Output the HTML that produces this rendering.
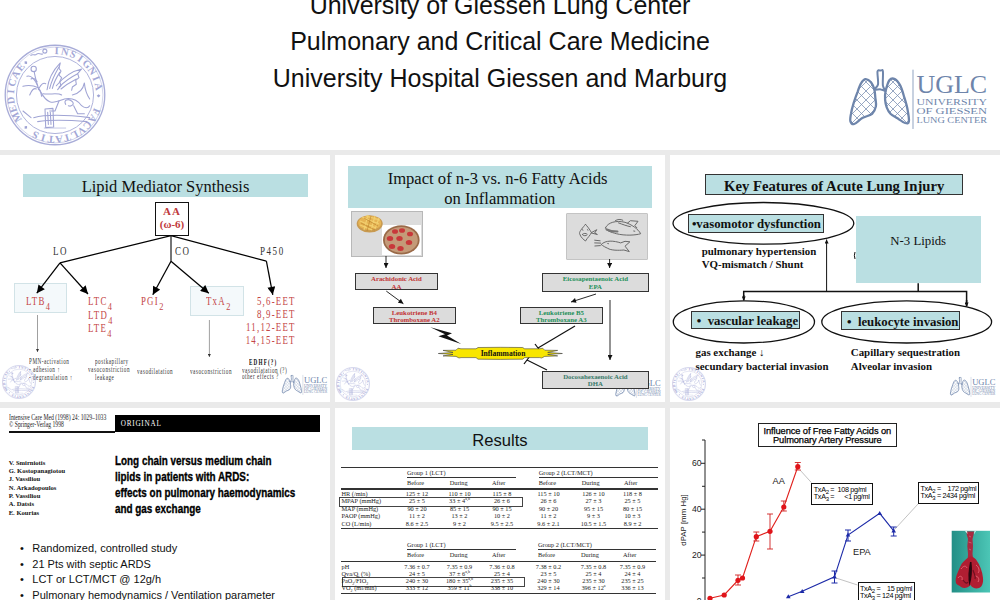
<!DOCTYPE html>
<html><head><meta charset="utf-8">
<style>
html,body{margin:0;padding:0;}
body{width:1000px;height:600px;overflow:hidden;background:#eaeaea;position:relative;font-family:"Liberation Sans",sans-serif;}
.abs{position:absolute;}
.p{position:absolute;background:#fff;overflow:hidden;}
.serif{font-family:"Liberation Serif",serif;}
.t{position:absolute;white-space:nowrap;line-height:1;}
svg{position:absolute;left:0;top:0;overflow:visible;}
.red{position:absolute;white-space:nowrap;font-family:"Liberation Serif",serif;font-size:11.6px;line-height:13px;color:#c44646;letter-spacing:1.6px;transform:scaleX(0.76);transform-origin:0 0;}
.red sub{font-size:11px;vertical-align:-5px;line-height:0;letter-spacing:0;margin-left:0.5px;}
.gbox{position:absolute;box-sizing:content-box;background:#dcdcdc;border:1.2px solid #333;font-family:"Liberation Serif",serif;font-weight:bold;font-size:6.8px;line-height:7.7px;text-align:center;white-space:nowrap;padding-top:0.5px;}
.b13{font-size:12.8px;font-weight:bold;color:#111;}
.b11{font-size:10.9px;font-weight:bold;color:#111;line-height:13.3px;}
.tb{position:absolute;white-space:nowrap;font-family:"Liberation Serif",serif;font-size:6.3px;line-height:6.3px;color:#222;}
.tb sup,.tb sub{font-size:4px;line-height:0;}
.txa{position:absolute;box-sizing:border-box;border:1px solid #111;background:#fff;font-size:7.2px;line-height:7px;padding:2.2px 0 0 1.5px;text-align:left;white-space:pre;color:#000;letter-spacing:-0.32px;overflow:hidden;}
.txa sub{font-size:6px;line-height:0;vertical-align:-2px;}
.tiny{position:absolute;white-space:nowrap;font-family:"Liberation Serif",serif;font-size:7.2px;line-height:7.7px;color:#333;letter-spacing:0.7px;transform:scaleX(0.72);transform-origin:0 0;}
</style></head><body>

<svg width="0" height="0" style="position:absolute;left:0;top:0;">
  <defs>
    <symbol id="seal" viewBox="0 0 100 100">
      <g fill="none" stroke="#a8acd8">
        <circle cx="50" cy="50" r="48.8" stroke-width="1.3"/>
        <circle cx="50" cy="50" r="47" stroke-width="0.5"/>
        <circle cx="50" cy="50" r="37.8" stroke-width="0.9"/>
      </g>
      <g font-family="Liberation Serif" font-size="10.2" font-weight="bold" fill="#a3a7d6"><text x="50" y="9.80" transform="rotate(2.0 50 50)" text-anchor="middle">I</text><text x="50" y="9.80" transform="rotate(13.0 50 50)" text-anchor="middle">N</text><text x="50" y="9.80" transform="rotate(24.0 50 50)" text-anchor="middle">S</text><text x="50" y="9.80" transform="rotate(35.0 50 50)" text-anchor="middle">I</text><text x="50" y="9.80" transform="rotate(46.0 50 50)" text-anchor="middle">G</text><text x="50" y="9.80" transform="rotate(57.0 50 50)" text-anchor="middle">N</text><text x="50" y="9.80" transform="rotate(68.0 50 50)" text-anchor="middle">I</text><text x="50" y="9.80" transform="rotate(79.0 50 50)" text-anchor="middle">A</text><text x="50" y="9.80" transform="rotate(112.0 50 50)" text-anchor="middle">F</text><text x="50" y="9.80" transform="rotate(122.4 50 50)" text-anchor="middle">A</text><text x="50" y="9.80" transform="rotate(132.9 50 50)" text-anchor="middle">C</text><text x="50" y="9.80" transform="rotate(143.3 50 50)" text-anchor="middle">V</text><text x="50" y="9.80" transform="rotate(153.8 50 50)" text-anchor="middle">L</text><text x="50" y="9.80" transform="rotate(164.2 50 50)" text-anchor="middle">T</text><text x="50" y="9.80" transform="rotate(174.7 50 50)" text-anchor="middle">A</text><text x="50" y="9.80" transform="rotate(185.1 50 50)" text-anchor="middle">T</text><text x="50" y="9.80" transform="rotate(195.6 50 50)" text-anchor="middle">I</text><text x="50" y="9.80" transform="rotate(206.0 50 50)" text-anchor="middle">S</text><text x="50" y="9.80" transform="rotate(240.0 50 50)" text-anchor="middle">M</text><text x="50" y="9.80" transform="rotate(251.5 50 50)" text-anchor="middle">E</text><text x="50" y="9.80" transform="rotate(263.0 50 50)" text-anchor="middle">D</text><text x="50" y="9.80" transform="rotate(274.5 50 50)" text-anchor="middle">I</text><text x="50" y="9.80" transform="rotate(286.0 50 50)" text-anchor="middle">C</text><text x="50" y="9.80" transform="rotate(297.5 50 50)" text-anchor="middle">A</text><text x="50" y="9.80" transform="rotate(309.0 50 50)" text-anchor="middle">E</text></g>
      <g fill="none" stroke="#a3a7d6" stroke-width="1.1"><path d="M26,11.5 C28,9 30,12 32,10 C34,8 36,11 38,9.5 M40,9 a2,2 0 1,1 0.1,0"/></g>
      <g fill="#9fa4d4"><path d="M50,5.5 l1.6,1.8 l-1.6,1.8 l-1.6,-1.8 z" transform="rotate(91 50 50)"/><path d="M50,5.5 l1.6,1.8 l-1.6,1.8 l-1.6,-1.8 z" transform="rotate(222 50 50)"/><path d="M50,5.5 l1.6,1.8 l-1.6,1.8 l-1.6,-1.8 z" transform="rotate(318 50 50)"/></g>
      <g fill="none" stroke="#a0a4d4" stroke-width="1.05" stroke-linecap="round" stroke-linejoin="round">
        <circle cx="29.1" cy="24.5" r="2.6"/>
        <path d="M29.7,27.5 C30.4,33.0 32.4,38.2 33.7,43.5"/>
        <path d="M33.7,42.8 Q26.1,39.5 18.6,41.5"/>
        <path d="M33.0,40.9 Q27.8,29.7 22.5,31.7"/>
        <path d="M31.7,44.1 Q28.4,42.2 25.2,50.0"/>
        <path d="M34.3,43.5 Q37.6,36.9 40.9,38.9"/>
        <path d="M32.4,36.9 Q29.4,32.4 26.5,34.3"/>
        <path d="M33.7,44.8 Q35.3,42.8 36.9,51.3"/>
        <path d="M33.7,43.5 C36.9,47.4 38.2,53.9 44.8,56.5 C50.0,58.5 55.2,55.2 59.2,53.9 C65.7,52.6 72.2,55.2 76.1,60.5 C78.8,63.1 82.7,63.1 84.0,60.5"/>
        <path d="M38.2,48.7 C44.8,50.0 52.6,47.4 56.5,50.0"/>
        <path d="M42.2,44.8 C43.5,34.3 48.7,25.2 55.2,18.6 L53.9,23.9 55.9,26.5 53.9,30.4 56.5,33.0 54.6,36.9 55.9,40.9 52.6,44.8"/>
        <path d="M44.8,43.5 C46.7,35.6 50.0,29.1 53.9,22.5"/>
        <path d="M47.4,43.5 C48.7,38.2 51.3,33.0 54.6,27.8"/>
        <path d="M51.3,40.9 C57.8,33.0 67.0,26.5 76.1,24.5 L72.2,29.1 73.5,33.0 70.3,35.6 70.9,39.5 67.0,42.2 66.3,45.4"/>
        <path d="M53.9,42.2 C60.5,35.6 67.0,31.7 72.2,29.1"/>
        <path d="M55.9,44.1 C61.8,38.9 67.0,36.3 70.9,34.3"/>
        <path d="M67.0,50.0 C73.5,48.7 77.5,44.8 78.8,38.2 C79.4,44.8 81.4,50.0 84.0,53.9"/>
        <path d="M60.5,59.2 C57.8,55.2 63.1,52.6 67.0,56.5 C69.6,59.2 65.7,61.8 63.1,60.5"/>
        <path d="M53.9,55.9 L50.0,65.7 44.8,65.7 M68.3,60.5 L72.2,68.3 78.8,68.3"/>
        <path d="M40.2,63.7 L48.0,63.1 48.7,81.4 40.9,82.0 z"/>
        <path d="M42.8,67.0 L43.5,78.8 M45.4,67.0 L46.1,78.8"/>
        <path d="M29.1,72.2 C43.5,68.3 63.1,69.6 84.0,72.2 M33.0,76.1 C50.0,73.5 65.7,74.8 81.4,76.1 M18.6,65.7 L26.5,72.2"/>
        <path d="M39.5,82.4 L60.5,82.4" stroke-width="0.6"/>
      </g>
    </symbol>
    <symbol id="uglc" viewBox="846 66 144 64">
      <defs><clipPath id="lungclip"><path d="M874.3,89.4 C873.5,86.8 872.4,84.1 871.0,82.3 C869.6,80.6 867.2,79.0 865.6,79.1 C864.0,79.2 862.6,80.7 861.3,82.9 C859.9,85.0 858.7,88.7 857.5,92.1 C856.2,95.4 854.8,99.3 853.7,102.9 C852.6,106.5 851.5,110.7 851.0,113.8 C850.4,116.8 849.9,119.6 850.4,121.3 C851.0,123.1 852.2,124.6 854.2,124.0 C856.2,123.5 859.4,119.8 862.3,118.1 C865.3,116.4 869.8,115.7 872.1,113.8 C874.3,111.8 875.3,108.9 875.9,106.2 C876.4,103.5 875.6,100.3 875.3,97.5 C875.1,94.7 875.0,91.9 874.3,89.4 z M885.6,91.0 C886.4,87.8 887.9,82.2 889.4,80.2 C891.0,78.2 893.0,78.2 894.8,79.1 C896.6,80.0 898.7,82.7 900.3,85.6 C901.8,88.5 902.9,92.6 904.0,96.4 C905.2,100.2 906.5,104.2 907.3,108.3 C908.1,112.5 909.3,118.9 908.9,121.3 C908.6,123.8 907.1,123.5 905.1,123.0 C903.1,122.4 899.4,119.6 897.0,118.1 C894.6,116.6 892.2,115.6 890.5,113.8 C888.8,111.9 887.6,109.6 886.7,107.3 C885.8,104.9 885.3,102.4 885.1,99.7 C884.9,97.0 884.9,94.3 885.6,91.0 z"/></clipPath></defs>
      <g fill="none" stroke="#6e85ab" stroke-linejoin="round" stroke-linecap="round">
        <path d="M791,70 L851,130 M851,70 L791,130 M800,70 L860,130 M860,70 L800,130 M809,70 L869,130 M869,70 L809,130 M818,70 L878,130 M878,70 L818,130 M827,70 L887,130 M887,70 L827,130 M836,70 L896,130 M896,70 L836,130 M845,70 L905,130 M905,70 L845,130 M854,70 L914,130 M914,70 L854,130 M863,70 L923,130 M923,70 L863,130 M872,70 L932,130 M932,70 L872,130 M881,70 L941,130 M941,70 L881,130 M890,70 L950,130 M950,70 L890,130 M899,70 L959,130 M959,70 L899,130 M908,70 L968,130 M968,70 L908,130" stroke-width="0.8" clip-path="url(#lungclip)" stroke="#7d92b4"/>
        <path d="M874.3,89.4 C873.5,86.8 872.4,84.1 871.0,82.3 C869.6,80.6 867.2,79.0 865.6,79.1 C864.0,79.2 862.6,80.7 861.3,82.9 C859.9,85.0 858.7,88.7 857.5,92.1 C856.2,95.4 854.8,99.3 853.7,102.9 C852.6,106.5 851.5,110.7 851.0,113.8 C850.4,116.8 849.9,119.6 850.4,121.3 C851.0,123.1 852.2,124.6 854.2,124.0 C856.2,123.5 859.4,119.8 862.3,118.1 C865.3,116.4 869.8,115.7 872.1,113.8 C874.3,111.8 875.3,108.9 875.9,106.2 C876.4,103.5 875.6,100.3 875.3,97.5 C875.1,94.7 875.0,91.9 874.3,89.4 z" stroke-width="2.3"/>
        <path d="M885.6,91.0 C886.4,87.8 887.9,82.2 889.4,80.2 C891.0,78.2 893.0,78.2 894.8,79.1 C896.6,80.0 898.7,82.7 900.3,85.6 C901.8,88.5 902.9,92.6 904.0,96.4 C905.2,100.2 906.5,104.2 907.3,108.3 C908.1,112.5 909.3,118.9 908.9,121.3 C908.6,123.8 907.1,123.5 905.1,123.0 C903.1,122.4 899.4,119.6 897.0,118.1 C894.6,116.6 892.2,115.6 890.5,113.8 C888.8,111.9 887.6,109.6 886.7,107.3 C885.8,104.9 885.3,102.4 885.1,99.7 C884.9,97.0 884.9,94.3 885.6,91.0 z" stroke-width="2.3"/>
        <path d="M877.5,71.5 C878.0,69.2 879.9,70.7 880.8,70.6 C881.7,70.6 882.6,68.8 882.9,71.3 C883.3,73.8 882.5,82.3 882.9,85.6 C883.4,88.9 886.0,90.4 885.6,91.0 C885.3,91.6 882.6,89.6 880.8,89.4 C878.9,89.1 874.7,90.2 874.3,89.4 C873.8,88.6 877.5,87.5 878.0,84.5 C878.6,81.5 877.1,73.8 877.5,71.5 z" stroke-width="2" fill="#fff"/>
        <line x1="913" y1="70" x2="913" y2="128.5" stroke-width="1.1" stroke="#9aabc6"/>
      </g>
      <g fill="#6e85ab" font-family="Liberation Serif">
        <text x="916.5" y="93.4" font-size="26" textLength="70.7" lengthAdjust="spacingAndGlyphs">UGLC</text>
        <text x="916.5" y="104.6" font-size="9" textLength="70.5" lengthAdjust="spacingAndGlyphs">UNIVERSITY</text>
        <text x="916.5" y="113.6" font-size="9" textLength="70.5" lengthAdjust="spacingAndGlyphs">OF GIESSEN</text>
        <text x="916.5" y="123" font-size="9" textLength="70.5" lengthAdjust="spacingAndGlyphs">LUNG CENTER</text>
      </g>
    </symbol>
  </defs>
</svg>
<!-- HEADER -->
<div class="p" id="hdr" style="left:0;top:0;width:1000px;height:150px;">
  <div class="t" style="left:0;width:1000px;text-align:center;top:-7px;font-size:25px;color:#111;">University of Giessen Lung Center</div>
  <div class="t" style="left:0;width:1000px;text-align:center;top:28.8px;font-size:25px;color:#111;">Pulmonary and Critical Care Medicine</div>
  <div class="t" style="left:0;width:1000px;text-align:center;top:65.5px;font-size:25px;color:#111;">University Hospital Giessen and Marburg</div>
  <svg class="abs" style="left:4px;top:44px;" width="102" height="102" viewBox="0 0 100 100"><use href="#seal"/></svg>
  <svg class="abs" style="left:846px;top:66px;" width="144" height="64" viewBox="0 0 144 64"><use href="#uglc" width="144" height="64"/></svg>
</div>

<!-- PANEL 1 -->
<div class="p" id="p1" style="left:0;top:155px;width:330px;height:247px;">
  <div class="abs" style="left:23px;top:19px;width:285px;height:23px;background:#badfe2;"></div>
  <div class="t serif" style="left:23px;width:285px;text-align:center;top:23.5px;font-size:16.5px;color:#111;">Lipid Mediator Synthesis</div>
  <div class="abs" style="left:14px;top:128px;width:51px;height:28px;background:#f4f9fb;border:1px solid #d2e3e7;"></div>
  <div class="abs" style="left:190px;top:131px;width:52px;height:28px;background:#f4f9fb;border:1px solid #d2e3e7;"></div>
  <div class="abs" style="left:155px;top:47px;width:32px;height:32px;border:1px solid #111;background:#fff;"></div>
  <svg width="330" height="247" viewBox="0 0 330 247">
    <defs>
      <marker id="ah1" viewBox="0 0 10 10" refX="10" refY="5" markerWidth="9" markerHeight="8" markerUnits="userSpaceOnUse" orient="auto">
        <path d="M0,0 L10,5 L0,10 z" fill="#000"/>
      </marker>
      <marker id="ah2" viewBox="0 0 10 10" refX="10" refY="5" markerWidth="3" markerHeight="3" markerUnits="userSpaceOnUse" orient="auto">
        <path d="M0,0 L10,5 L0,10 z" fill="#333"/>
      </marker>
    </defs>
    <g stroke="#000" stroke-width="1.25" fill="none">
      <polyline points="60,107.8 171,80.6 266.4,106.2"/>
      <line x1="171" y1="80.6" x2="171" y2="106.2" stroke="#222"/>
      <line x1="60" y1="107.8" x2="36.8" y2="138.2" marker-end="url(#ah1)"/>
      <line x1="60" y1="107.8" x2="88" y2="139" marker-end="url(#ah1)"/>
      <line x1="171" y1="106.2" x2="152.8" y2="139.8" marker-end="url(#ah1)"/>
      <line x1="171" y1="106.2" x2="208.8" y2="138.2" marker-end="url(#ah1)"/>
      <line x1="266.4" y1="106.2" x2="272.8" y2="139.8" marker-end="url(#ah1)"/>
    </g>
    <g stroke="#777" stroke-width="0.7">
      <line x1="37.5" y1="160" x2="37.5" y2="197" marker-end="url(#ah2)"/>
      <line x1="209.4" y1="165" x2="209.4" y2="202" marker-end="url(#ah2)"/>
    </g>
  </svg>
  <div class="t serif" style="left:155px;width:34px;text-align:center;top:51px;font-size:11px;font-weight:bold;color:#c0393b;letter-spacing:1px;">AA</div>
  <div class="t serif" style="left:155px;width:34px;text-align:center;top:64px;font-size:11px;font-weight:bold;color:#c0393b;">(ω-6)</div>
  <div class="t serif lbl" style="left:52.8px;top:90.7px;font-size:11.5px;color:#333;letter-spacing:2px;transform:scaleX(0.78);transform-origin:0 0;">LO</div>
  <div class="t serif lbl" style="left:174.7px;top:90.7px;font-size:11.5px;color:#333;letter-spacing:2px;transform:scaleX(0.78);transform-origin:0 0;">CO</div>
  <div class="t serif lbl" style="left:260px;top:90.7px;font-size:11.5px;color:#333;letter-spacing:2px;transform:scaleX(0.78);transform-origin:0 0;">P450</div>
  <div class="red" style="left:26px;top:140px;">LTB<sub>4</sub></div>
  <div class="red" style="left:88px;top:140px;line-height:13.5px;">LTC<sub>4</sub><br>LTD<sub>4</sub><br>LTE<sub>4</sub></div>
  <div class="red" style="left:141.3px;top:140px;">PGI<sub>2</sub></div>
  <div class="red" style="left:206.2px;top:140px;">TxA<sub>2</sub></div>
  <div class="red" style="right:34.2px;top:140px;line-height:13px;text-align:right;transform-origin:100% 0;">5,6-EET<br>8,9-EET<br>11,12-EET<br>14,15-EET</div>
  <div class="tiny" style="left:29px;top:204.4px;">PMN-activation<br>- adhesion ↑<br>- degranulation ↑</div>
  <div class="tiny" style="left:95px;top:204.4px;">postkapillary</div>
  <div class="tiny" style="left:88.4px;top:212.0px;">vasoconstriction</div>
  <div class="tiny" style="left:95.2px;top:219.8px;">leakage</div>
  <div class="tiny" style="left:136.8px;top:213.8px;">vasodilatation</div>
  <div class="tiny" style="left:189.9px;top:213.8px;">vasoconstriction</div>
  <div class="tiny" style="left:249px;top:205.1px;font-weight:bold;color:#111;letter-spacing:1.6px;">EDHF(?)</div>
  <div class="tiny" style="left:242px;top:212.7px;line-height:6.4px;">vasodilatation (?)<br>other effects ?</div>
  <svg class="abs" style="left:2px;top:210px;" width="34" height="34" viewBox="0 0 100 100"><use href="#seal"/></svg>
  <svg class="abs" style="left:280px;top:219px;" width="49" height="21" viewBox="0 0 144 64"><use href="#uglc" width="144" height="64"/></svg>
</div>

<!-- PANEL 2 -->
<div class="p" id="p2" style="left:335px;top:155px;width:330px;height:247px;">
  <div class="abs" style="left:12.5px;top:11px;width:304.5px;height:42px;background:#badfe2;"></div>
  <div class="t serif" style="left:10.3px;width:304.5px;text-align:center;top:13.6px;font-size:16.6px;line-height:19.6px;color:#111;">Impact of n-3 vs. n-6 Fatty Acids</div>
  <div class="t serif" style="left:12.5px;width:304.5px;text-align:center;top:34.1px;font-size:16.6px;line-height:19.6px;color:#111;">on Inflammation</div>
  <svg class="abs" style="left:279px;top:221.7px;" width="48" height="21" viewBox="0 0 144 64"><use href="#uglc" width="144" height="64"/></svg>
  <svg class="abs" style="left:1px;top:212px;" width="34" height="34" viewBox="0 0 100 100"><use href="#seal"/></svg>
  <div class="abs" style="left:16.3px;top:56.3px;width:70px;height:43.4px;background:#dcdcdc;border:1px solid #b8b8b8;"></div>
  <div class="abs" style="left:47.4px;top:70px;width:38.4px;height:30px;background:#fff;"></div>
  <div class="abs" style="left:231.3px;top:57.8px;width:80px;height:45.4px;background:#dcdcdc;border:1px solid #c4c4c4;border-radius:1px;"></div>
  <div class="gbox" style="left:20px;top:118.3px;width:80.8px;height:14.4px;color:#c23434;">Arachidonic Acid<br>AA</div>
  <div class="gbox" style="left:38px;top:152px;width:80.7px;height:14.6px;color:#c23434;">Leukotriene B4<br>Thromboxane A2</div>
  <div class="gbox" style="left:207px;top:118.3px;width:104.8px;height:16.2px;color:#24905a;">Eicosapentaenoic Acid<br>EPA</div>
  <div class="gbox" style="left:185px;top:152px;width:80.7px;height:14.6px;color:#24905a;">Leukotriene B5<br>Thromboxane A3</div>
  <div class="gbox" style="left:207px;top:216px;width:104.8px;height:15.4px;color:#3a7a6a;">Docosahexaenoic Acid<br>DHA</div>
  <svg width="330" height="247" viewBox="0 0 330 247">
    <defs>
      <marker id="ah3" viewBox="0 0 10 10" refX="10" refY="5" markerWidth="6" markerHeight="5" markerUnits="userSpaceOnUse" orient="auto">
        <path d="M0,0 L10,5 L0,10 z" fill="#111"/>
      </marker>
    </defs>
    <!-- fries -->
    <ellipse cx="34.7" cy="68.8" rx="13" ry="8.6" fill="#c89a50"/>
    <ellipse cx="34.7" cy="68" rx="11.5" ry="7.2" fill="#e6b454"/>
    <g stroke="#f2d070" stroke-width="1.1"><path d="M25,66 L41,73 M27,62 L44,69 M31,61 L45,65 M25,70 L37,75 M33,60 L29,75 M40,61 L36,75 M44,63 L40,74"/></g>
    <g stroke="#b8802a" stroke-width="0.6"><path d="M26,68 L40,75 M29,63 L43,71 M36,61 L32,76"/></g>
    <ellipse cx="66.3" cy="84.9" rx="18.3" ry="14.6" fill="#9a6a48"/>
    <ellipse cx="66.3" cy="84.9" rx="16.5" ry="12.8" fill="#c49a78"/>
    <g fill="#c8383a">
      <ellipse cx="60" cy="76.5" rx="3" ry="2.3"/><ellipse cx="67" cy="75.5" rx="3" ry="2.3"/><ellipse cx="75" cy="79" rx="3" ry="2.3"/>
      <ellipse cx="55" cy="83.5" rx="3.2" ry="2.5"/><ellipse cx="64.5" cy="83.5" rx="3.2" ry="2.5"/><ellipse cx="74" cy="87.5" rx="3.2" ry="2.5"/>
      <ellipse cx="57" cy="91.5" rx="3.2" ry="2.5"/><ellipse cx="65.5" cy="93.5" rx="3.2" ry="2.5"/>
    </g>
    <!-- fish -->
    <g fill="none" stroke="#6a6a6a" stroke-width="1" stroke-linejoin="round" stroke-linecap="round">
    <path d="M250.5,69.3 C247.8,72.8 244.5,76.0 244.5,78.4 C245.6,82.5 248.8,84.7 250.5,86.0 C252.6,82.5 255.3,80.3 256.4,77.6 C254.8,74.4 252.1,71.1 250.5,69.3"/>
    <path d="M256.4,77.6 L261.8,74.7 259.7,78.0 262.4,79.5 256.4,78.0"/>
    <path d="M247.2,79.5 C248.3,78.0 251.5,78.0 252.3,79.5 C251.5,81.2 248.3,81.2 247.2,79.5"/>
    <path d="M247.2,74.7 L248.0,75.1 M252.3,74.7 L253.0,75.1"/>
    <path d="M270.5,72.8 C272.7,67.3 281.3,65.2 290.0,67.3 C296.5,69.5 303.0,73.8 305.7,78.7 C300.8,80.3 290.0,80.9 281.3,78.7 C275.9,77.1 271.0,76.0 270.5,72.8"/>
    <path d="M280.3,65.7 C282.4,64.1 285.7,64.1 287.8,65.2"/>
    <path d="M292.2,68.4 L295.4,65.7 303.0,66.3 299.8,70.6 301.9,72.8"/>
    <path d="M283.5,67.9 C287.8,69.5 292.2,71.1 295.4,71.7"/>
    <path d="M298.7,76.0 L299.8,76.2"/>
    <path d="M266.2,89.5 C270.5,84.7 279.2,85.8 285.7,87.9 L290.0,86.3 294.9,86.8 290.0,91.2 294.3,96.6 288.9,95.0 C283.5,95.5 275.9,95.5 272.7,93.3 C270.5,92.3 268.3,91.2 266.2,89.5"/>
    <path d="M259.7,85.2 L265.1,85.8 M259.7,87.9 L265.6,88.1 M259.9,91.0 L265.3,90.6"/>
    <path d="M272.7,88.5 L273.5,88.7"/>
    <path d="M271.6,74.4 C274.8,76.0 279.2,76.5 282.4,76.5" stroke-width="2.2" stroke="#777"/>
    </g>
    <g stroke="#111" stroke-width="0.9" fill="none">
      <line x1="51" y1="101" x2="51" y2="113" marker-end="url(#ah3)"/>
      <line x1="274.6" y1="104" x2="274.6" y2="113" marker-end="url(#ah3)"/>
      <line x1="51.3" y1="136.1" x2="68.4" y2="148.7" marker-end="url(#ah3)"/>
      <line x1="261" y1="139" x2="236" y2="147" marker-end="url(#ah3)"/>
      <line x1="275" y1="145" x2="275" y2="205" marker-end="url(#ah3)"/>
      <line x1="240" y1="171" x2="203" y2="193" stroke-width="1.2"/>
      <line x1="200" y1="189" x2="206" y2="197" stroke-width="1.2"/>
      <line x1="212" y1="215" x2="192" y2="205" stroke-width="1.2"/>
      <line x1="189" y1="209" x2="195" y2="201" stroke-width="1.2"/>
    </g>
    <!-- lightning -->
    <path d="M95.4,172.2 L117,178.2 L112,180.5 L126.2,189 L103.4,181.3 L110,179.2 z" fill="#111"/>
    <!-- starburst -->
    <path d="M165.3,192.3 L143.0,192.5 L141.0,193.8 L126.0,193.8 L123.0,193.2 L121.0,195.2 L108.0,195.4 L118.0,197.4 L103.3,198.5 L118.0,199.4 L108.0,200.9 L121.0,201.4 L124.0,203.0 L126.0,202.6 L141.0,202.6 L143.0,204.2 L165.3,204.4 L187.7,204.2 L189.7,202.6 L204.7,202.6 L206.7,203.0 L209.7,201.4 L222.7,200.9 L212.7,199.4 L227.4,198.5 L212.7,197.4 L222.7,195.4 L209.7,195.2 L207.7,193.2 L204.7,193.8 L189.7,193.8 L187.7,192.5 z" fill="#f8e600" stroke="#333" stroke-width="0.55" stroke-linejoin="miter"/>
  </svg>
  <div class="t serif" style="left:168px;top:195px;transform:translateX(-50%);font-size:7.6px;font-weight:bold;color:#111;">Inflammation</div>
</div>

<!-- PANEL 3 -->
<div class="p" id="p3" style="left:670px;top:155px;width:330px;height:247px;">
  <div class="abs" style="left:35.4px;top:19.4px;width:255.6px;height:18.8px;background:#badfe2;border:1px solid #333;"></div>
  <div class="t serif" style="left:35.4px;width:257.6px;text-align:center;top:23.5px;font-size:14.7px;font-weight:bold;color:#111;">Key Features of Acute Lung Injury</div>
  <div class="abs" style="left:185.8px;top:61px;width:124.8px;height:67.2px;background:#badfe2;"></div>
  <div class="t serif" style="left:185.8px;width:124.8px;text-align:center;top:80px;font-size:12.8px;color:#111;">N-3 Lipids</div>
  <svg width="330" height="247" viewBox="0 0 330 247">
    <defs>
      <marker id="ah4" viewBox="0 0 10 10" refX="10" refY="5" markerWidth="5" markerHeight="4" markerUnits="userSpaceOnUse" orient="auto">
        <path d="M0,0 L10,5 L0,10 z" fill="#111"/>
      </marker>
    </defs>
    <g fill="none" stroke="#111" stroke-width="1.3">
      <path d="M185,97 A3,6 0 0,0 185,104" stroke-width="1"/>
      <ellipse cx="93.4" cy="68.35" rx="90.4" ry="20.85"/>
      <ellipse cx="73.9" cy="166.9" rx="70.6" ry="21.1"/>
      <ellipse cx="236.7" cy="166.9" rx="84.9" ry="21.1"/>
    </g>
    <g fill="none" stroke="#111" stroke-width="1.5">
      <polyline points="73.7,145 73.7,136.6 296.6,136.6 296.6,151"/>
      <line x1="248.2" y1="128.2" x2="248.2" y2="136.6"/>
      <line x1="156.6" y1="136.6" x2="156.6" y2="84.5" marker-end="url(#ah4)" stroke-width="1"/>
      <line x1="73.7" y1="140" x2="73.7" y2="145.5" marker-end="url(#ah4)"/>
      <line x1="296.6" y1="145" x2="296.6" y2="151.5" marker-end="url(#ah4)"/>
    </g>
  </svg>
  <div class="abs" style="left:17.7px;top:58.75px;width:134.3px;height:16.75px;background:#badfe2;border:1px solid #333;"></div>
  <div class="t serif b13" style="left:21.9px;top:62.5px;">•vasomotor dysfunction</div>
  <div class="abs" style="left:21.3px;top:155.7px;width:106.5px;height:16.7px;background:#badfe2;border:1px solid #333;"></div>
  <div class="t serif b13" style="left:26.8px;top:159.8px;">•&nbsp;&nbsp;vascular leakage</div>
  <div class="abs" style="left:171px;top:156.4px;width:116.75px;height:17.1px;background:#badfe2;border:1px solid #333;"></div>
  <div class="t serif b13" style="left:177px;top:160.5px;">•&nbsp;&nbsp;leukocyte invasion</div>
  <div class="t serif b11" style="left:31.7px;top:90px;">pulmonary hypertension<br>VQ-mismatch / Shunt</div>
  <div class="t serif b11" style="left:25.5px;top:191.4px;">gas exchange ↓<br>secundary bacterial invasion</div>
  <div class="t serif b11" style="left:180.8px;top:191.4px;">Capillary sequestration<br>Alveolar invasion</div>
  <svg class="abs" style="left:2px;top:212px;" width="34" height="34" viewBox="0 0 100 100"><use href="#seal"/></svg>
  <svg class="abs" style="left:279.4px;top:220.6px;" width="47.3" height="21" viewBox="0 0 144 64"><use href="#uglc" width="144" height="64"/></svg>
</div>

<!-- PANEL 4 -->
<div class="p" id="p4" style="left:0;top:408px;width:330px;height:192px;">
  <div class="t serif" style="left:8.7px;top:5.6px;font-size:7.6px;line-height:7.4px;color:#222;transform:scaleX(0.75);transform-origin:0 0;">Intensive Care Med (1998) 24: 1029–1033<br>© Springer-Verlag 1998</div>
  <div class="abs" style="left:9px;top:23.4px;width:106px;height:1.6px;background:#111;"></div>
  <div class="abs" style="left:114.7px;top:6.7px;width:205.3px;height:17.3px;background:#000;"></div>
  <div class="t serif" style="left:120.8px;top:12.5px;font-size:7.2px;color:#fff;letter-spacing:0.75px;">ORIGINAL</div>
  <div class="t serif" style="left:8.7px;top:50.5px;font-size:6.6px;line-height:8.38px;font-weight:bold;color:#111;">V. Smirniotis<br>G. Kostopanagiotou<br>J. Vassiliou<br>N. Arkadopoulos<br>P. Vassiliou<br>A. Datsis<br>E. Kourias</div>
  <div class="t" style="left:115px;top:44.5px;font-size:12.9px;line-height:16px;font-weight:bold;color:#000;-webkit-text-stroke:0.35px #000;transform:scaleX(0.767);transform-origin:0 0;">Long chain versus medium chain<br>lipids in patients with ARDS:<br>effects on pulmonary haemodynamics<br>and gas exchange</div>
  <div class="t" style="left:20px;top:132.7px;font-size:11px;line-height:15.85px;color:#111;">•<br>•<br>•<br>•</div>
  <div class="t" style="left:32.3px;top:132.7px;font-size:11px;line-height:15.85px;color:#111;">Randomized, controlled study<br>21 Pts with septic ARDS<br>LCT or LCT/MCT @ 12g/h<br>Pulmonary hemodynamics / Ventilation parameter</div>
</div>

<!-- PANEL 5 -->
<div class="p" id="p5" style="left:335px;top:408px;width:330px;height:192px;">
  <div class="abs" style="left:16.7px;top:18.7px;width:296.6px;height:23px;background:#badfe2;"></div>
  <div class="t" style="left:16.7px;width:296.6px;text-align:center;top:25px;font-size:16.6px;color:#111;">Results</div>
  <div class="abs" style="left:6.3px;top:59.1px;width:316.5px;height:0.8px;background:#333;"></div>
  <div class="abs" style="left:72px;top:69.2px;width:108.8px;height:1.3px;background:#333;"></div>
  <div class="abs" style="left:203.8px;top:69.2px;width:119px;height:1.3px;background:#333;"></div>
  <div class="abs" style="left:6.3px;top:80.1px;width:316.5px;height:1.5px;background:#333;"></div>
  <div class="abs" style="left:6.3px;top:119.9px;width:316.5px;height:0.8px;background:#333;"></div>
  <div class="abs" style="left:3.7px;top:89px;width:182px;height:7.6px;border:0.8px solid #444;"></div>
  <div class="tb" style="left:72px;top:61.8px;">Group 1 (LCT)</div>
  <div class="tb" style="left:203.8px;top:61.8px;">Group 2 (LCT/MCT)</div>
  <div class="tb" style="left:72px;top:72.4px;">Before</div><div class="tb" style="left:114.7px;top:72.4px;">During</div><div class="tb" style="left:157px;top:72.4px;">After</div>
  <div class="tb" style="left:203.8px;top:72.4px;">Before</div><div class="tb" style="left:246.7px;top:72.4px;">During</div><div class="tb" style="left:289px;top:72.4px;">After</div>
  <div class="tb" style="left:6.5px;top:83.1px;">HR (/min)</div>
  <div class="tb" style="left:82px;top:83.1px;transform:translateX(-50%);">125 ± 12</div>
  <div class="tb" style="left:124.5px;top:83.1px;transform:translateX(-50%);">110 ± 10</div>
  <div class="tb" style="left:167px;top:83.1px;transform:translateX(-50%);">115 ± 8</div>
  <div class="tb" style="left:213.5px;top:83.1px;transform:translateX(-50%);">115 ± 10</div>
  <div class="tb" style="left:258.5px;top:83.1px;transform:translateX(-50%);">126 ± 10</div>
  <div class="tb" style="left:297.5px;top:83.1px;transform:translateX(-50%);">118 ± 8</div>
  <div class="tb" style="left:6.5px;top:90.4px;">MPAP (mmHg)</div>
  <div class="tb" style="left:82px;top:90.4px;transform:translateX(-50%);">25 ± 5</div>
  <div class="tb" style="left:124.5px;top:90.4px;transform:translateX(-50%);">33 ± 4<sup>a,b</sup></div>
  <div class="tb" style="left:167px;top:90.4px;transform:translateX(-50%);">26 ± 6</div>
  <div class="tb" style="left:213.5px;top:90.4px;transform:translateX(-50%);">26 ± 6</div>
  <div class="tb" style="left:258.5px;top:90.4px;transform:translateX(-50%);">27 ± 3</div>
  <div class="tb" style="left:297.5px;top:90.4px;transform:translateX(-50%);">25 ± 5</div>
  <div class="tb" style="left:6.5px;top:97.8px;">MAP (mmHg)</div>
  <div class="tb" style="left:82px;top:97.8px;transform:translateX(-50%);">90 ± 20</div>
  <div class="tb" style="left:124.5px;top:97.8px;transform:translateX(-50%);">85 ± 15</div>
  <div class="tb" style="left:167px;top:97.8px;transform:translateX(-50%);">90 ± 15</div>
  <div class="tb" style="left:213.5px;top:97.8px;transform:translateX(-50%);">90 ± 20</div>
  <div class="tb" style="left:258.5px;top:97.8px;transform:translateX(-50%);">95 ± 15</div>
  <div class="tb" style="left:297.5px;top:97.8px;transform:translateX(-50%);">80 ± 15</div>
  <div class="tb" style="left:6.5px;top:105.1px;">PAOP (mmHg)</div>
  <div class="tb" style="left:82px;top:105.1px;transform:translateX(-50%);">11 ± 2</div>
  <div class="tb" style="left:124.5px;top:105.1px;transform:translateX(-50%);">13 ± 2</div>
  <div class="tb" style="left:167px;top:105.1px;transform:translateX(-50%);">10 ± 2</div>
  <div class="tb" style="left:213.5px;top:105.1px;transform:translateX(-50%);">11 ± 2</div>
  <div class="tb" style="left:258.5px;top:105.1px;transform:translateX(-50%);">9 ± 3</div>
  <div class="tb" style="left:297.5px;top:105.1px;transform:translateX(-50%);">10 ± 3</div>
  <div class="tb" style="left:6.5px;top:112.5px;">CO (L/min)</div>
  <div class="tb" style="left:82px;top:112.5px;transform:translateX(-50%);">8.6 ± 2.5</div>
  <div class="tb" style="left:124.5px;top:112.5px;transform:translateX(-50%);">9 ± 2</div>
  <div class="tb" style="left:167px;top:112.5px;transform:translateX(-50%);">9.5 ± 2.5</div>
  <div class="tb" style="left:213.5px;top:112.5px;transform:translateX(-50%);">9.6 ± 2.1</div>
  <div class="tb" style="left:258.5px;top:112.5px;transform:translateX(-50%);">10.5 ± 1.5</div>
  <div class="tb" style="left:297.5px;top:112.5px;transform:translateX(-50%);">8.9 ± 2</div>
  <div class="abs" style="left:72px;top:141.1px;width:108.8px;height:1.3px;background:#333;"></div>
  <div class="abs" style="left:203px;top:141.1px;width:117.8px;height:1.3px;background:#333;"></div>
  <div class="abs" style="left:6.3px;top:152.6px;width:314.5px;height:1.5px;background:#333;"></div>
  <div class="abs" style="left:6.3px;top:185.3px;width:314.5px;height:0.8px;background:#333;"></div>
  <div class="abs" style="left:6.7px;top:169px;width:181.6px;height:7.6px;border:0.8px solid #444;"></div>
  <div class="tb" style="left:72px;top:134.1px;">Group 1 (LCT)</div>
  <div class="tb" style="left:203px;top:134.1px;">Group 2 (LCT/MCT)</div>
  <div class="tb" style="left:72px;top:144.1px;">Before</div><div class="tb" style="left:114.7px;top:144.1px;">During</div><div class="tb" style="left:157px;top:144.1px;">After</div>
  <div class="tb" style="left:203px;top:144.1px;">Before</div><div class="tb" style="left:246px;top:144.1px;">During</div><div class="tb" style="left:288px;top:144.1px;">After</div>
  <div class="tb" style="left:6.5px;top:155.8px;">pH</div>
  <div class="tb" style="left:82px;top:155.8px;transform:translateX(-50%);">7.36 ± 0.7</div>
  <div class="tb" style="left:124.5px;top:155.8px;transform:translateX(-50%);">7.35 ± 0.9</div>
  <div class="tb" style="left:167px;top:155.8px;transform:translateX(-50%);">7.36 ± 0.8</div>
  <div class="tb" style="left:213.5px;top:155.8px;transform:translateX(-50%);">7.38 ± 0.2</div>
  <div class="tb" style="left:258.5px;top:155.8px;transform:translateX(-50%);">7.35 ± 0.8</div>
  <div class="tb" style="left:297.5px;top:155.8px;transform:translateX(-50%);">7.35 ± 0.9</div>
  <div class="tb" style="left:6.5px;top:162.9px;">Qva/Q<sub>t</sub> (%)</div>
  <div class="tb" style="left:82px;top:162.9px;transform:translateX(-50%);">24 ± 5</div>
  <div class="tb" style="left:124.5px;top:162.9px;transform:translateX(-50%);">37 ± 6<sup>a,b</sup></div>
  <div class="tb" style="left:167px;top:162.9px;transform:translateX(-50%);">25 ± 4</div>
  <div class="tb" style="left:213.5px;top:162.9px;transform:translateX(-50%);">23 ± 5</div>
  <div class="tb" style="left:258.5px;top:162.9px;transform:translateX(-50%);">25 ± 4</div>
  <div class="tb" style="left:297.5px;top:162.9px;transform:translateX(-50%);">24 ± 4</div>
  <div class="tb" style="left:6.5px;top:170.0px;">PaO<sub>2</sub>/FIO<sub>2</sub></div>
  <div class="tb" style="left:82px;top:170.0px;transform:translateX(-50%);">240 ± 30</div>
  <div class="tb" style="left:124.5px;top:170.0px;transform:translateX(-50%);">180 ± 35<sup>a,b</sup></div>
  <div class="tb" style="left:167px;top:170.0px;transform:translateX(-50%);">235 ± 35</div>
  <div class="tb" style="left:213.5px;top:170.0px;transform:translateX(-50%);">240 ± 30</div>
  <div class="tb" style="left:258.5px;top:170.0px;transform:translateX(-50%);">235 ± 30</div>
  <div class="tb" style="left:297.5px;top:170.0px;transform:translateX(-50%);">235 ± 25</div>
  <div class="tb" style="left:6.5px;top:177.1px;">VO<sub>2</sub> (ml/min)</div>
  <div class="tb" style="left:82px;top:177.1px;transform:translateX(-50%);">333 ± 12</div>
  <div class="tb" style="left:124.5px;top:177.1px;transform:translateX(-50%);">359 ± 11<sup>b</sup></div>
  <div class="tb" style="left:167px;top:177.1px;transform:translateX(-50%);">338 ± 10</div>
  <div class="tb" style="left:213.5px;top:177.1px;transform:translateX(-50%);">329 ± 14</div>
  <div class="tb" style="left:258.5px;top:177.1px;transform:translateX(-50%);">396 ± 12<sup>a</sup></div>
  <div class="tb" style="left:297.5px;top:177.1px;transform:translateX(-50%);">336 ± 13</div>
</div>

<!-- PANEL 6 -->
<div class="p" id="p6" style="left:670px;top:408px;width:330px;height:192px;">
  <div class="abs" style="left:88.3px;top:14.5px;width:136.4px;height:22.2px;border:0.8px solid #222;"></div>
  <div class="t" style="left:88.3px;width:138px;text-align:center;top:18.5px;font-size:9.3px;line-height:9.1px;color:#000;letter-spacing:-0.1px;-webkit-text-stroke:0.25px #000;">Influence of Free Fatty Acids on<br>Pulmonary Artery Pressure</div>
  <svg width="330" height="192" viewBox="0 0 330 192">
    <g stroke="#222" stroke-width="1">
      <line x1="35" y1="32" x2="35" y2="192"/>
      <line x1="32" y1="32" x2="35" y2="32"/>
      <line x1="31" y1="192.9" x2="35" y2="192.9"/><line x1="31" y1="147.1" x2="35" y2="147.1"/><line x1="31" y1="101.2" x2="35" y2="101.2"/><line x1="31" y1="55.3" x2="35" y2="55.3"/><line x1="32" y1="170.0" x2="35" y2="170.0"/><line x1="32" y1="124.1" x2="35" y2="124.1"/><line x1="32" y1="78.3" x2="35" y2="78.3"/>
    </g>
    <g stroke="#999" stroke-width="0.6">
      <line x1="130" y1="62" x2="141.3" y2="74.5"/>
      <line x1="225" y1="121" x2="248" y2="96"/>
      <line x1="166" y1="170" x2="187.5" y2="177"/>
    </g>
    <polyline fill="none" stroke="#e0201c" stroke-width="1.1" points="40,190.3 54.2,187 68,172.3 72.5,170 86.3,128.7 100,123.3 113.8,99 127.8,58.7"/>
    <path d="M68,167 V177 M65,167 H71 M65,177 H71" stroke="#d02020" stroke-width="0.9" fill="none"/>
    <path d="M86.3,124 V133 M83.3,124 H89.3 M83.3,133 H89.3" stroke="#d02020" stroke-width="0.9" fill="none"/>
    <path d="M100,106 V141 M97,106 H103 M97,141 H103" stroke="#d02020" stroke-width="0.9" fill="none"/>
    <path d="M113.8,93 V103 M110.8,93 H116.8 M110.8,103 H116.8" stroke="#d02020" stroke-width="0.9" fill="none"/>
    <path d="M127.8,54.5 V62 M124.8,54.5 H130.8 M124.8,62 H130.8" stroke="#d02020" stroke-width="0.9" fill="none"/>
    <circle cx="40" cy="190.3" r="2.6" fill="#e0141a"/>
    <circle cx="54.2" cy="187" r="2.6" fill="#e0141a"/>
    <circle cx="68" cy="172.3" r="2.6" fill="#e0141a"/>
    <circle cx="72.5" cy="170" r="2.6" fill="#e0141a"/>
    <circle cx="86.3" cy="128.7" r="2.6" fill="#e0141a"/>
    <circle cx="100" cy="123.3" r="2.6" fill="#e0141a"/>
    <circle cx="113.8" cy="99" r="2.6" fill="#e0141a"/>
    <circle cx="127.8" cy="58.7" r="2.6" fill="#e0141a"/>
    <polyline fill="none" stroke="#1c2aa8" stroke-width="1.1" points="118.3,188.7 132.2,183.3 164.5,168.8 178,127 209.7,105.3 223.7,122.8"/>
    <path d="M164.5,163 V175 M161.5,163 H167.5 M161.5,175 H167.5" stroke="#1c2aa8" stroke-width="1" fill="none"/>
    <path d="M178,122 V133 M175,122 H181 M175,133 H181" stroke="#1c2aa8" stroke-width="1" fill="none"/>
    <path d="M223.7,119 V128 M220.7,119 H226.7 M220.7,128 H226.7" stroke="#1c2aa8" stroke-width="1" fill="none"/>
    <path d="M116.0,190.29999999999998 L118.3,186.29999999999998 L120.6,190.29999999999998 z" fill="#1c2aa8"/>
    <path d="M129.89999999999998,184.9 L132.2,180.9 L134.5,184.9 z" fill="#1c2aa8"/>
    <path d="M162.2,170.4 L164.5,166.4 L166.8,170.4 z" fill="#1c2aa8"/>
    <path d="M175.7,128.6 L178,124.6 L180.3,128.6 z" fill="#1c2aa8"/>
    <path d="M207.39999999999998,106.89999999999999 L209.7,102.89999999999999 L212.0,106.89999999999999 z" fill="#1c2aa8"/>
    <path d="M221.39999999999998,124.39999999999999 L223.7,120.39999999999999 L226.0,124.39999999999999 z" fill="#1c2aa8"/>
    <defs><linearGradient id="tealg" x1="0" x2="1"><stop offset="0" stop-color="#238f86"/><stop offset="1" stop-color="#4cc6b6"/></linearGradient></defs>
    <rect x="281.7" y="122.8" width="38.3" height="61.7" fill="url(#tealg)"/>
    <path d="M296.5,123.5 L304,123.5 L303.5,127 L302.5,131 L303,138 L302.5,146 L303.5,153 L297.5,153 L298,146 L297.3,138 L298,131 L296.8,127 z" fill="#a82a40"/>
    <path d="M295,123 L297,123 L297.5,126 z M304.5,123 L306,123 L304,126.5 z" fill="#d8eeea"/>
    <path d="M299,128 L301,129 M298.5,134 L301.5,135 M299,141 L301,142" stroke="#d06878" stroke-width="0.8"/>
    <path d="M299,149 C296,151 292,154 290,159 C288,164 285,169 285.8,174 C286,177 289,177 291,179 C294,181 298,180 300.5,177 C302,180 306,181 309,180 C312,179 313.5,175 313,170 C312.5,164 310,157 306,151.5 C303.5,149 301,148 299,149 z" fill="#b01e32"/>
    <path d="M291,161 C293,158 296,157 297,160 M288,170 C290,167 293,168 292,172 M306,157 C309,159 310,163 308,165 M305,168 C308,168 310,171 308,174" stroke="#e06070" stroke-width="1" fill="none"/>
    <path d="M300,154 C298.5,162 297.5,170 299.5,178 C302,170 302.5,162 301.5,154 z" fill="#2a0810"/>
    <path d="M293,172 C295,175 297,176 298,174 M303,162 C304,166 306,168 305,171" stroke="#701020" stroke-width="1.2" fill="none"/>
  </svg>
  <div class="t" style="left:0;width:31.6px;text-align:right;top:51px;font-size:8.6px;line-height:8.6px;color:#222;">60</div>
  <div class="t" style="left:0;width:31.6px;text-align:right;top:96.9px;font-size:8.6px;line-height:8.6px;color:#222;">40</div>
  <div class="t" style="left:0;width:31.6px;text-align:right;top:142.7px;font-size:8.6px;line-height:8.6px;color:#222;">20</div>
  <div class="t" style="left:0;width:31.6px;text-align:right;top:188.6px;font-size:8.6px;line-height:8.6px;color:#222;">0</div>
  <div class="t" style="left:14px;top:112.2px;font-size:7.9px;line-height:7.9px;color:#222;transform:translate(-50%,-50%) rotate(-90deg);">dPAP [mm Hg]</div>
  <div class="t" style="left:102.5px;top:69.4px;font-size:9.2px;color:#222;">AA</div>
  <div class="t" style="left:183px;top:139.6px;font-size:9.2px;color:#222;">EPA</div>
  <div class="txa" style="left:141.3px;top:74.5px;width:61.6px;height:22.6px;">TxA<sub>2</sub> =  108 pg/ml
TxA<sub>3</sub> =      &lt;1 pg/ml</div>
  <div class="txa" style="left:248px;top:74px;width:61.1px;height:22.4px;">TxA<sub>2</sub> =    172 pg/ml
TxA<sub>3</sub> = 2434 pg/ml</div>
  <div class="txa" style="left:187.5px;top:174px;width:57px;height:24px;">TxA<sub>2</sub> =    15 pg/ml
TxA<sub>3</sub> = 124 pg/ml</div>
</div>

</body></html>
